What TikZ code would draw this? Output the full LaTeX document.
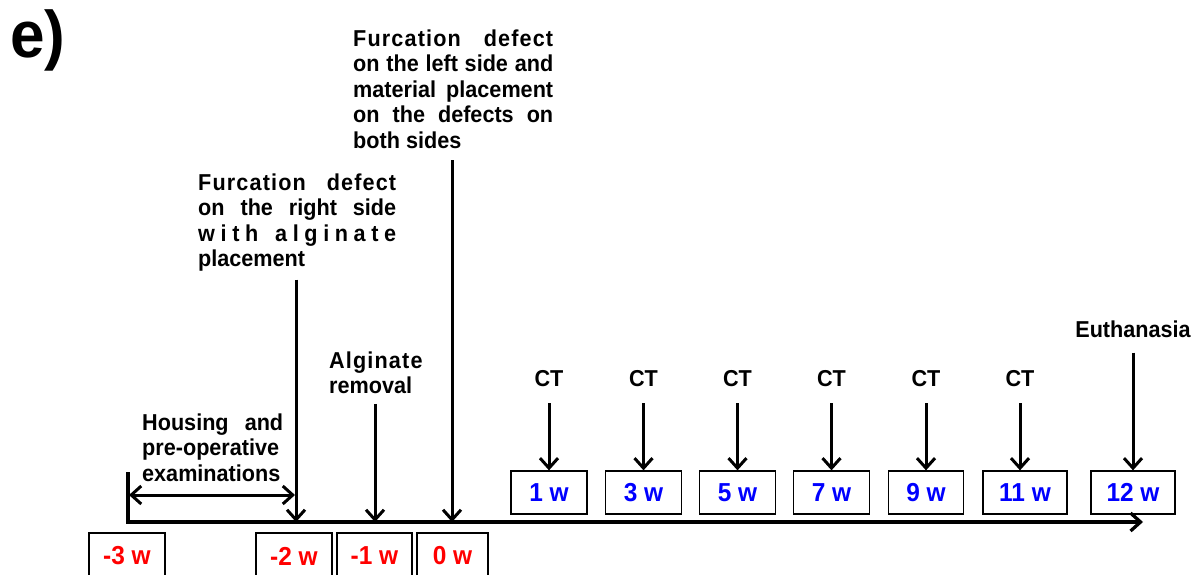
\documentclass[tikz,border=0pt]{standalone}
\usepackage{fontspec}
\setmainfont{Liberation Sans}[FakeStretch=0.94]
\newfontfamily\spacedfont{Liberation Sans}[FakeStretch=0.94,LetterSpace=5]
\usetikzlibrary{arrows.meta}
\begin{document}
\begin{tikzpicture}[x=1pt,y=-1pt,
  lbl/.style={font=\fontsize{23}{25.5}\selectfont\bfseries, inner sep=0pt},
  para/.style={lbl, align=left, anchor=north west},
  wk/.style={draw, line width=1.3pt, minimum width=76pt, minimum height=43pt, inner sep=0pt,
             font=\fontsize{26}{30}\selectfont\bfseries},
  pre/.style={wk, text=red, minimum height=46pt},
  post/.style={wk, text=blue},
  arr/.style={line width=3pt, -{Straight Barb[length=10pt,width=18pt]}},
]
\useasboundingbox (0,0) rectangle (1200,574);

% panel label
\node[font=\fontsize{66}{66}\selectfont\bfseries, anchor=base west, inner sep=0pt] (lab) at (10,57) {e)};

% timeline coordinates
\coordinate (tick) at (128,472);
\coordinate (t3) at (128,522);
\coordinate (t2) at (296,522);
\coordinate (t1) at (375,522);
\coordinate (t0) at (452,522);
\coordinate (tend) at (1143,522);
\coordinate (h1) at (129,495);
\coordinate (h2) at (295,495);

\draw[line width=3.3pt, -{Straight Barb[length=10pt,width=18pt]}] (tick) -- (t3) -- (tend);
\draw[line width=3pt, {Straight Barb[length=10pt,width=18pt]}-{Straight Barb[length=10pt,width=18pt]}] (h1) -- (h2);

% texts before surgery
\node[para] (fl) at (353,29.2) {%
  \makebox[200pt][s]{\spacedfont Furcation\hfill defect}\\
  \makebox[200pt][s]{on the left side and}\\
  \makebox[200pt][s]{material placement}\\
  \makebox[200pt][s]{on the defects on}\\
  both sides};
\node[para] (fr) at (198,173.2) {%
  \makebox[198pt][s]{\spacedfont Furcation\hfill defect}\\
  \makebox[198pt][s]{on the right side}\\
  \makebox[198pt][s]{w\hfill i\hfill t\hfill h\hfill\hfill\hfill a\hfill l\hfill g\hfill i\hfill n\hfill a\hfill t\hfill e}\\
  placement};
\node[para] (al) at (329,351.2) {{\spacedfont Alginate}\\removal};
\node[para] (ho) at (142,413.2) {%
  \makebox[141pt][s]{Housing and}\\
  pre-operative\\
  examinations};

\draw[arr, shorten <=12pt] (fl.south -| t0) -- (t0);
\draw[arr, shorten <=8pt] (fr.south -| t2) -- (t2);
\draw[arr, shorten <=10pt] (al.south -| t1) -- (t1);

% pre-operative week boxes
\node[pre] (m3) at (127,556) {-3 w};
\node[pre] (m2) at (294,556) {-2 w};
\node[pre, minimum width=75pt] (m1) at (374.5,556) {-1 w};
\node[pre, minimum width=71pt] (z0) at (452.5,556) {0 w};

% post-operative week boxes
\node[post] (b1) at (549,492.5) {1 w};
\node[post] (b3) at (643.5,492.5) {3 w};
\node[post] (b5) at (737.5,492.5) {5 w};
\node[post] (b7) at (831.5,492.5) {7 w};
\node[post, minimum width=75pt] (b9) at (926,492.5) {9 w};
\node[post, minimum width=84pt] (b11) at (1025,492.5) {11 w};
\node[post, minimum width=84pt] (b12) at (1133,492.5) {12 w};

% CT labels
\node[lbl] (c1) at (549,379) {CT};
\node[lbl] (c3) at (643.5,379) {CT};
\node[lbl] (c5) at (737.5,379) {CT};
\node[lbl] (c7) at (831.5,379) {CT};
\node[lbl] (c9) at (926,379) {CT};
\node[lbl] (c11) at (1020,379) {CT};
\node[lbl] (eu) at (1133,329) {Euthanasia};

\draw[arr, shorten <=16pt] (c1.south) -- (b1.north);
\draw[arr, shorten <=16pt] (c3.south) -- (b3.north);
\draw[arr, shorten <=16pt] (c5.south) -- (b5.north);
\draw[arr, shorten <=16pt] (c7.south) -- (b7.north);
\draw[arr, shorten <=16pt] (c9.south) -- (b9.north);
\draw[arr, shorten <=16pt] (c11.south) -- (c11.south |- b11.north);
\draw[arr, shorten <=15pt] (eu.south) -- (b12.north);
\end{tikzpicture}
\end{document}
